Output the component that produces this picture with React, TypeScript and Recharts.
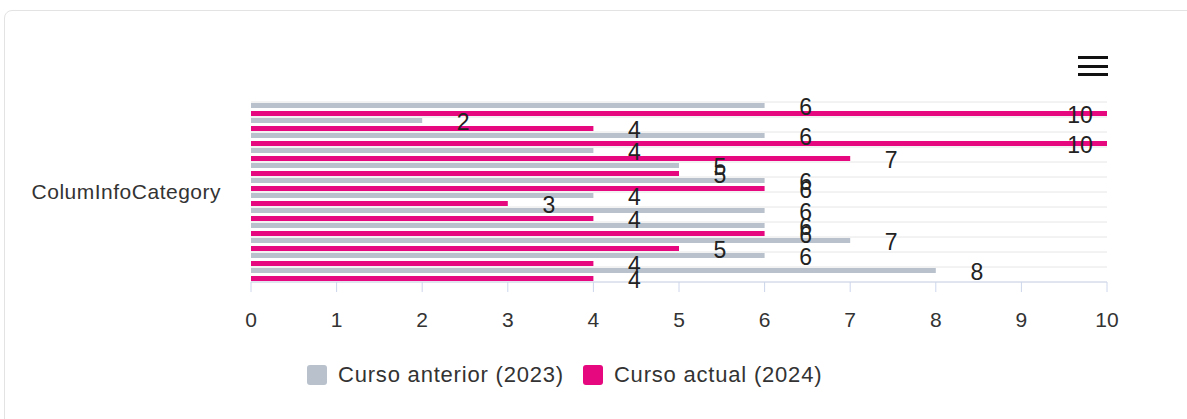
import React from 'react';
import { BarChart, Bar, XAxis, YAxis, CartesianGrid, LabelList } from 'recharts';

const categories = ['1', '2', '3', '4', '5', '6', '7', '8', '9', '10', '11', '12'];
const previousYear = [6, 2, 6, 4, 5, 6, 4, 6, 6, 7, 6, 8];
const currentYear = [10, 4, 10, 7, 5, 6, 3, 4, 6, 5, 4, 4];
const xTicks = [0, 1, 2, 3, 4, 5, 6, 7, 8, 9, 10];
const seriesNames = ['Curso anterior (2023)', 'Curso actual (2024)'];

const GRAY = '#b8c1cc';
const PINK = '#e5087e';
const FONT = '"Liberation Sans", Arial, Helvetica, sans-serif';

const W = 1187;
const H = 419;
const MARGIN = { top: 102, right: 80, bottom: 87, left: 0 };
const PLOT_RIGHT = W - MARGIN.right;

const chartData = categories.map((c, i) => ({
  name: c,
  prev: previousYear[i],
  curr: currentYear[i],
}));

// value labels sit ~40px past the bar end, pulled back inside the plot when they'd overflow
const ValueLabel = (props: any) => {
  const { x, y, width, height, value } = props;
  const cx = Math.min(Number(x) + Number(width) + 41, PLOT_RIGHT - 27);
  return (
    <text
      x={cx}
      y={Number(y) + Number(height) / 2 + 1}
      textAnchor="middle"
      dominantBaseline="central"
      fill="#222"
      fontSize={23}
      fontFamily={FONT}
    >
      {value}
    </text>
  );
};

// grid lines on the category boundaries, not the centres
const gridLines = ({ offset }: any) =>
  categories.map((_, i) => offset.top + (i * offset.height) / categories.length).concat(offset.top + offset.height);

const LegendBox = () => (
  <div style={{ position: 'absolute', left: 307, top: 362, display: 'flex', alignItems: 'center', fontFamily: FONT, fontSize: 22, letterSpacing: 0.8, color: '#333' }}>
    {seriesNames.map((n, i) => (
      <div key={n} style={{ display: 'flex', alignItems: 'center', marginRight: 19 }}>
        <span style={{ width: 20, height: 20, borderRadius: 3, background: i === 0 ? GRAY : PINK, display: 'inline-block', marginRight: 11 }} />
        <span>{n}</span>
      </div>
    ))}
  </div>
);

export default function App() {
  return (
    <div style={{ position: 'fixed', left: 0, top: 0, width: W, height: H, overflow: 'hidden', background: '#fff' }}>
      <div style={{ position: 'absolute', left: 4, top: 10, width: 1220, height: 440, border: '1px solid #e3e3e3', borderRadius: 8 }} />
      <div style={{ position: 'absolute', left: 0, top: 0 }}>
        <BarChart
          width={W}
          height={H}
          data={chartData}
          layout="vertical"
          margin={MARGIN}
          barSize={5}
          barGap={3}
        >
          <CartesianGrid vertical={false} stroke="#e6e6e6" horizontalCoordinatesGenerator={gridLines} />
          <XAxis
            type="number"
            domain={[0, 10]}
            ticks={xTicks}
            interval={0}
            height={50}
            axisLine={{ stroke: '#ccd6eb' }}
            tickLine={{ stroke: '#ccd6eb' }}
            tickSize={10}
            tickMargin={20}
            tick={{ fill: '#333', fontSize: 21, fontFamily: FONT }}
          />
          <YAxis
            type="category"
            dataKey="name"
            width={251}
            tick={false}
            axisLine={false}
            tickLine={false}
            label={{ value: 'ColumInfoCategory', position: 'insideRight', offset: 30, fill: '#333', fontSize: 21, letterSpacing: 0.5, fontFamily: FONT }}
          />
          <Bar dataKey="prev" fill={GRAY} isAnimationActive={false}>
            <LabelList dataKey="prev" content={ValueLabel} />
          </Bar>
          <Bar dataKey="curr" fill={PINK} isAnimationActive={false}>
            <LabelList dataKey="curr" content={ValueLabel} />
          </Bar>
        </BarChart>
      </div>
      <div style={{ position: 'absolute', left: 1078, top: 56, width: 30 }}>
        {[0, 1, 2].map((k) => (
          <div key={k} style={{ height: 3, background: '#111', marginBottom: 5.5 }} />
        ))}
      </div>
      <LegendBox />
    </div>
  );
}
